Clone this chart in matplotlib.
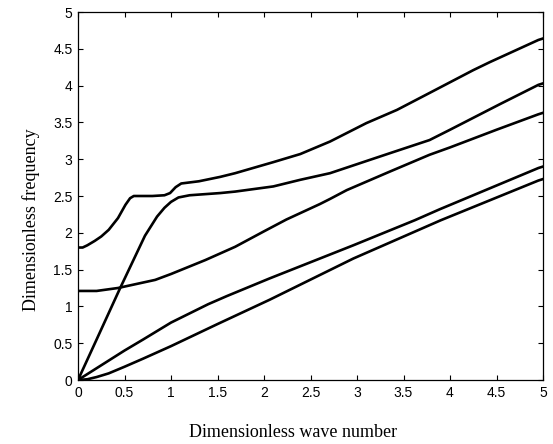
import matplotlib
matplotlib.use("Agg")
import matplotlib.pyplot as plt

# branch readings (wave number, frequency)
k_top = [0, 0.05, 0.1, 0.18, 0.25, 0.33, 0.43, 0.51, 0.56, 0.6, 0.8, 0.93, 0.99, 1.05, 1.11,
         1.3, 1.53, 1.69, 2.1, 2.39, 2.71, 3.1, 3.43, 3.78, 4.25, 4.43, 4.95, 5.0]
w_top = [1.80, 1.80, 1.83, 1.89, 1.95, 2.04, 2.20, 2.38, 2.47, 2.50, 2.50, 2.51, 2.54, 2.62, 2.67,
         2.70, 2.76, 2.81, 2.96, 3.07, 3.24, 3.49, 3.67, 3.90, 4.21, 4.32, 4.62, 4.64]

k_second = [0, 0.2, 0.45, 0.6, 0.72, 0.85, 0.93, 1.0, 1.08, 1.2, 1.53, 1.69, 2.1, 2.39,
            2.71, 3.35, 3.78, 4.0, 4.54, 4.95, 5.0]
w_second = [0, 0.55, 1.24, 1.64, 1.96, 2.22, 2.34, 2.42, 2.48, 2.51, 2.54, 2.56, 2.63, 2.72,
            2.81, 3.08, 3.26, 3.40, 3.75, 4.01, 4.03]

k_third = [0, 0.2, 0.43, 0.83, 1.0, 1.37, 1.53, 1.69, 2.0, 2.24, 2.6, 2.71, 2.89, 3.35,
           3.78, 4.0, 4.25, 4.5, 4.95, 5.0]
w_third = [1.21, 1.21, 1.25, 1.36, 1.44, 1.63, 1.72, 1.81, 2.02, 2.18, 2.39, 2.46, 2.58, 2.83,
           3.06, 3.16, 3.28, 3.40, 3.61, 3.63]

k_fourth = [0, 0.1, 0.3, 0.5, 0.7, 1.0, 1.4, 1.6, 2.06, 2.96, 3.62, 3.89, 4.95, 5.0]
w_fourth = [0, 0.08, 0.24, 0.40, 0.55, 0.78, 1.03, 1.14, 1.38, 1.83, 2.17, 2.32, 2.88, 2.90]

k_fifth = [0, 0.1, 0.2, 0.33, 0.5, 0.7, 1.0, 1.5, 2.06, 2.96, 3.9, 4.95, 5.0]
w_fifth = [0, 0.01, 0.04, 0.09, 0.18, 0.29, 0.46, 0.76, 1.09, 1.65, 2.17, 2.71, 2.73]

ticks = [0, 0.5, 1, 1.5, 2, 2.5, 3, 3.5, 4, 4.5, 5]
tick_text = ["0", "0.5", "1", "1.5", "2", "2.5", "3", "3.5", "4", "4.5", "5"]

fig = plt.figure(figsize=(5.53, 4.44), dpi=100)
ax = fig.add_axes([78 / 553, 64 / 444, 465 / 553, 368 / 444])

for k, w in [(k_top, w_top), (k_second, w_second), (k_third, w_third),
             (k_fourth, w_fourth), (k_fifth, w_fifth)]:
    ax.plot(k, w, color="black", lw=1.9, solid_joinstyle="round")

ax.set_xlim(0, 5)
ax.set_ylim(0, 5)
ax.set_xticks(ticks)
ax.set_yticks(ticks)
ax.set_xticklabels(tick_text, family="Liberation Sans", fontsize=10)
ax.set_yticklabels(tick_text, family="Liberation Sans", fontsize=10)
ax.tick_params(direction="in", length=3.5, width=0.8, top=True, right=True, pad=4)
for s in ax.spines.values():
    s.set_linewidth(0.9)

ax.set_xlabel("Dimensionless wave number", family="Liberation Serif", fontsize=13)
ax.set_ylabel("Dimensionless frequency", family="Liberation Serif", fontsize=13)
# the scan has both labels a bit off-centre
ax.xaxis.set_label_coords(0.462, -0.12)
ax.yaxis.set_label_coords(-0.082, 0.435)

fig.savefig("out.png", dpi=100)
